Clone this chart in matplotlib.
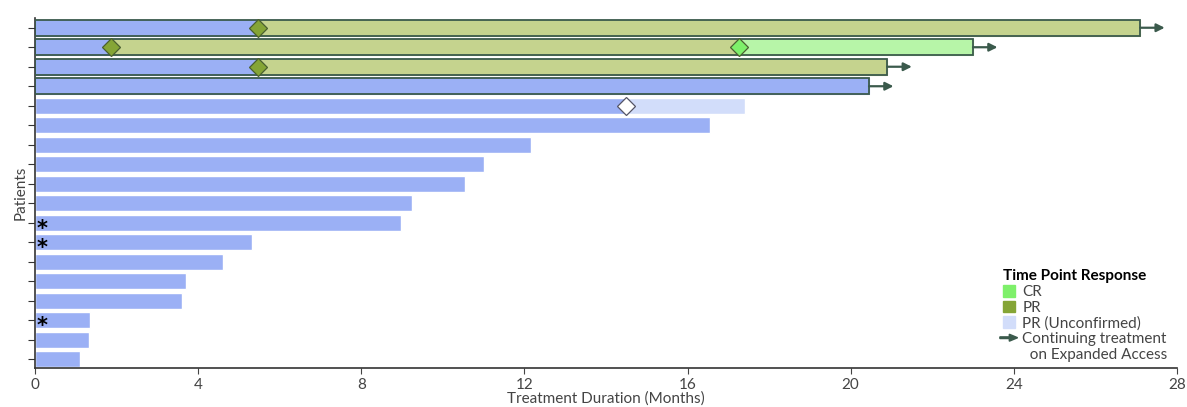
import numpy as np
import matplotlib.pyplot as plt
import matplotlib.patches as mpatches
from matplotlib.legend_handler import HandlerPatch

plt.rcParams['font.family'] = ['Lato', 'DejaVu Sans']

# one entry per patient, top to bottom
duration = [27.1, 23.0, 20.9, 20.45, 17.4, 16.55, 12.15, 11.0, 10.55, 9.25,
            8.97, 5.33, 4.6, 3.7, 3.6, 1.35, 1.32, 1.1]
pr_start = [5.47, 1.86, 5.47, None, None, None, None, None, None, None,
            None, None, None, None, None, None, None, None]
cr_start = [None, 17.26, None, None, None, None, None, None, None, None,
            None, None, None, None, None, None, None, None]
unconf_start = [None, None, None, None, 14.49, None, None, None, None, None,
                None, None, None, None, None, None, None, None]
continuing = [1, 1, 1, 1, 0, 0, 0, 0, 0, 0, 0, 0, 0, 0, 0, 0, 0, 0]
asterisk = [0, 0, 0, 0, 0, 0, 0, 0, 0, 0, 1, 1, 0, 0, 0, 1, 0, 0]

BLUE = '#9bb0f5'
OLIVE = '#c5d38e'
CR_FILL = '#b7f5a8'
UNCONF = '#d2ddfa'
PR_MARK = '#85a536'
CR_MARK = '#7ef06a'
DARK = '#3b5a4c'

fig = plt.figure(figsize=(11.87, 4.07), dpi=100)
ax = fig.add_axes([0.0295, 0.0958, 0.962, 0.86])

n = len(duration)
y = np.arange(n)
h = 0.84

for i in range(n):
    # segment boundaries for this patient
    stops = [(0, BLUE)]
    if pr_start[i] is not None:
        stops.append((pr_start[i], OLIVE))
    if cr_start[i] is not None:
        stops.append((cr_start[i], CR_FILL))
    if unconf_start[i] is not None:
        stops.append((unconf_start[i], UNCONF))
    for k, (s, c) in enumerate(stops):
        e = stops[k + 1][0] if k + 1 < len(stops) else duration[i]
        edge = c if continuing[i] else 'white'
        ax.barh(y[i], e - s, left=s, height=h, color=c, edgecolor=edge,
                linewidth=0.8 if continuing[i] else 1.0, zorder=2)
    if continuing[i]:
        ax.barh(y[i], duration[i], height=h, fill=False, edgecolor=DARK,
                linewidth=1.3, zorder=3)
        ax.annotate('', xy=(duration[i] + 0.6, y[i]), xytext=(duration[i], y[i]),
                    arrowprops=dict(arrowstyle='-|>', color=DARK, lw=1.6,
                                    mutation_scale=12, shrinkA=0, shrinkB=0),
                    zorder=4)
    if pr_start[i] is not None:
        ax.plot(pr_start[i], y[i], marker='D', ms=9, mfc=PR_MARK, mec='#4a6030',
                mew=0.9, zorder=5)
    if cr_start[i] is not None:
        ax.plot(cr_start[i], y[i], marker='D', ms=9, mfc=CR_MARK, mec='#4a6030',
                mew=0.9, zorder=5)
    if unconf_start[i] is not None:
        ax.plot(unconf_start[i], y[i], marker='D', ms=9, mfc='white', mec='#555566',
                mew=0.9, zorder=5)
    if asterisk[i]:
        ax.text(0.17, y[i] + 0.32, '*', fontsize=15, fontweight='bold', color='black',
                ha='center', va='center', zorder=6, family='DejaVu Sans')

ax.set_xlim(0, 28)
ax.set_ylim(n - 0.55, -0.5)
ax.set_xticks([0, 4, 8, 12, 16, 20, 24, 28])
ax.set_yticks(y)
ax.set_yticklabels([])
ax.tick_params(axis='x', colors='#444444', labelsize=11, length=4, pad=3)
ax.tick_params(axis='y', length=5, color='#333333')
ax.spines['top'].set_visible(False)
ax.spines['right'].set_visible(False)
for sp in ['left', 'bottom']:
    ax.spines[sp].set_color('#333333')
    ax.spines[sp].set_linewidth(1.2)
ax.set_xlabel('Treatment Duration (Months)', fontsize=11, color='#444444', labelpad=0)
ax.set_ylabel('Patients', fontsize=11, color='#444444', labelpad=-3)


def make_arrow(legend, orig_handle, xdescent, ydescent, width, height, fontsize):
    return mpatches.FancyArrow(-xdescent - 2, height / 2 - ydescent + 7, width + 4, 0,
                               width=1.2, head_width=5, head_length=6,
                               length_includes_head=True, color=DARK)


arrow_handle = mpatches.Patch(color=DARK)
handles = [mpatches.Patch(color=CR_MARK), mpatches.Patch(color=PR_MARK),
           mpatches.Patch(color=UNCONF), arrow_handle]
labels = ['CR', 'PR', 'PR (Unconfirmed)', 'Continuing treatment\n  on Expanded Access']
leg = ax.legend(handles, labels, title='Time Point Response', loc='lower right',
                bbox_to_anchor=(1.0, -0.01), frameon=False, fontsize=11,
                handlelength=0.8, handleheight=0.8, handletextpad=0.5,
                labelspacing=0.1, borderpad=0.1, alignment='left',
                handler_map={arrow_handle: HandlerPatch(patch_func=make_arrow)})
leg.get_title().set_fontweight('bold')
leg.get_title().set_fontsize(11)
for t in leg.get_texts():
    t.set_color('#444444')

fig.savefig('out.png', dpi=100)
